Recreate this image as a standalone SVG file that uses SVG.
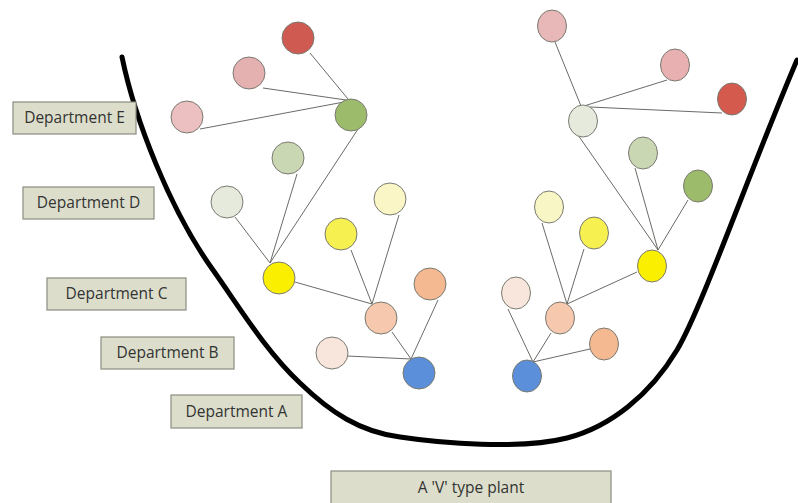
<svg xmlns="http://www.w3.org/2000/svg" width="798" height="503" viewBox="0 0 798 503">
  <style>
    .lbl rect { fill: #dcdecb; stroke: #8a8c80; stroke-width: 1.2; }
    .lbl text { font-family: "Open Sans", "DejaVu Sans", sans-serif; font-size: 15.5px; fill: #333; text-anchor: middle; }
    .node circle, .node ellipse { stroke: #7a7a72; stroke-width: 1; }
    #connectors line { stroke: #6a6a66; stroke-width: 1; }
  </style>
  <rect width="798" height="503" fill="#ffffff"/>

  <!-- the V-shaped plant outline -->
  <path id="plant-outline" d="M122,57 C135,120 170,210 213,270 C240,308 265,350 300,383 C330,412 360,432 400,437 C440,443 520,450 567,438 C610,427 650,395 677,350 C702,308 750,170 797,60" fill="none" stroke="#000" stroke-width="5" stroke-linecap="round"/>

  <!-- department labels -->
  <g id="label-e" class="lbl"><rect x="13" y="102" width="123" height="32"/><text x="74.5" y="123">Department E</text></g>
  <g id="label-d" class="lbl"><rect x="23" y="187" width="131" height="32"/><text x="88.5" y="208">Department D</text></g>
  <g id="label-c" class="lbl"><rect x="47" y="278" width="139" height="32"/><text x="116.5" y="299">Department C</text></g>
  <g id="label-b" class="lbl"><rect x="101" y="337" width="133" height="32"/><text x="167.5" y="358">Department B</text></g>
  <g id="label-a" class="lbl"><rect x="171" y="395" width="131" height="33"/><text x="236.5" y="417">Department A</text></g>
  <g id="label-plant" class="lbl"><rect x="331" y="471" width="280" height="34"/><text x="471" y="493">A 'V' type plant</text></g>

  <!-- connectors -->
  <g id="connectors">
    <!-- left tree -->
    <line x1="310" y1="53" x2="348" y2="99"/>
    <line x1="263" y1="88" x2="346" y2="100"/>
    <line x1="200" y1="129" x2="344" y2="102"/>
    <line x1="358" y1="129" x2="270" y2="263"/>
    <line x1="297" y1="174" x2="270" y2="263"/>
    <line x1="235" y1="217" x2="270" y2="263"/>
    <line x1="295" y1="282" x2="372" y2="304"/>
    <line x1="351" y1="250" x2="372" y2="304"/>
    <line x1="399" y1="215" x2="372" y2="304"/>
    <line x1="392" y1="332" x2="411" y2="359"/>
    <line x1="438" y1="300" x2="411" y2="359"/>
    <line x1="347" y1="356" x2="411" y2="359"/>
    <!-- right tree -->
    <line x1="555" y1="42" x2="581" y2="106"/>
    <line x1="667" y1="80" x2="584" y2="106"/>
    <line x1="722" y1="113" x2="590" y2="107"/>
    <line x1="578" y1="135" x2="658" y2="250"/>
    <line x1="635" y1="168" x2="658" y2="250"/>
    <line x1="688" y1="200" x2="658" y2="250"/>
    <line x1="637" y1="272" x2="567" y2="304"/>
    <line x1="584" y1="249" x2="567" y2="304"/>
    <line x1="542" y1="223" x2="567" y2="304"/>
    <line x1="551" y1="333" x2="533" y2="362"/>
    <line x1="508" y1="309" x2="533" y2="362"/>
    <line x1="590" y1="349" x2="533" y2="362"/>
  </g>

  <!-- left tree nodes -->
  <g id="l-e-red" class="node"><circle cx="298" cy="38" r="16" fill="#cf5a52"/></g>
  <g id="l-e-pink" class="node"><circle cx="249" cy="73" r="16" fill="#e5b0b0"/></g>
  <g id="l-e-pink2" class="node"><circle cx="187" cy="117" r="16" fill="#ecbfc1"/></g>
  <g id="l-e-hub" class="node"><circle cx="351" cy="115" r="16" fill="#9cbc6c"/></g>
  <g id="l-d-green" class="node"><circle cx="288" cy="158" r="16" fill="#c9d8b3"/></g>
  <g id="l-d-grey" class="node"><circle cx="227" cy="202" r="16" fill="#e6eadc"/></g>
  <g id="l-c-pale" class="node"><circle cx="390" cy="199" r="16" fill="#faf6c6"/></g>
  <g id="l-c-yellow" class="node"><circle cx="341" cy="234" r="16" fill="#f6f150"/></g>
  <g id="l-c-hub" class="node"><circle cx="279" cy="278" r="16" fill="#fbef00"/></g>
  <g id="l-b-peach" class="node"><circle cx="430" cy="284" r="16" fill="#f5b992"/></g>
  <g id="l-b-hub" class="node"><circle cx="381" cy="318" r="16" fill="#f6c8ae"/></g>
  <g id="l-a-pale" class="node"><circle cx="332" cy="353" r="16" fill="#f8e6dc"/></g>
  <g id="l-a-hub" class="node"><circle cx="419" cy="373" r="16" fill="#5b8fda"/></g>

  <!-- right tree nodes -->
  <g id="r-e-pink" class="node"><ellipse cx="552" cy="26" rx="14.5" ry="16" fill="#e8b8b8"/></g>
  <g id="r-e-pink2" class="node"><ellipse cx="675" cy="65" rx="14.5" ry="16" fill="#e8b0b0"/></g>
  <g id="r-e-red" class="node"><ellipse cx="732" cy="99" rx="14.5" ry="16" fill="#d45a4e"/></g>
  <g id="r-e-hub" class="node"><ellipse cx="583" cy="121" rx="14.5" ry="16" fill="#e6eadc"/></g>
  <g id="r-d-green" class="node"><ellipse cx="643" cy="153" rx="14.5" ry="16" fill="#c9d8b3"/></g>
  <g id="r-d-green2" class="node"><ellipse cx="698" cy="186" rx="14.5" ry="16" fill="#9cbc6c"/></g>
  <g id="r-c-pale" class="node"><ellipse cx="549" cy="207" rx="14.5" ry="16" fill="#f8f6c4"/></g>
  <g id="r-c-yellow" class="node"><ellipse cx="594" cy="233" rx="14.5" ry="16" fill="#f6f150"/></g>
  <g id="r-c-hub" class="node"><ellipse cx="652" cy="266" rx="14.5" ry="16" fill="#fbef00"/></g>
  <g id="r-b-pale" class="node"><ellipse cx="516" cy="293" rx="14.5" ry="16" fill="#f8e6dc"/></g>
  <g id="r-b-hub" class="node"><ellipse cx="560" cy="318" rx="14.5" ry="16" fill="#f6c8ae"/></g>
  <g id="r-b-peach" class="node"><ellipse cx="604" cy="344" rx="14.5" ry="16" fill="#f5b992"/></g>
  <g id="r-a-hub" class="node"><ellipse cx="527" cy="376" rx="14.5" ry="16" fill="#5b8fda"/></g>
</svg>
